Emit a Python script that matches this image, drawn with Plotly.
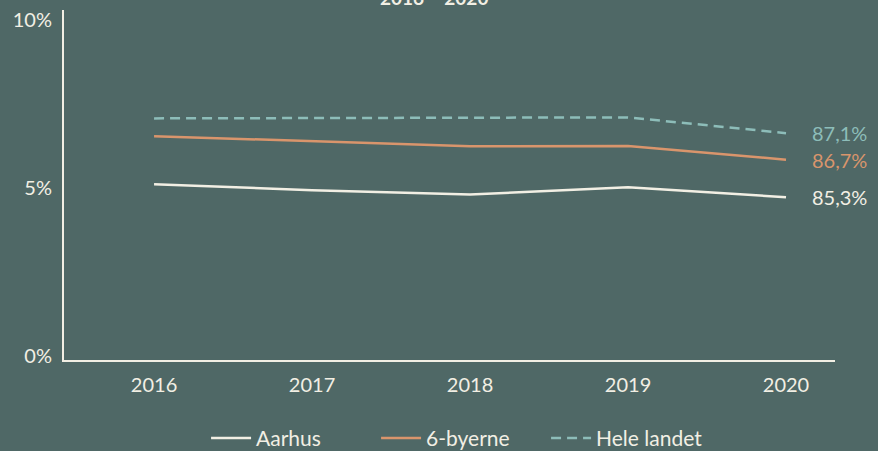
import plotly.graph_objects as go

years = [2016, 2017, 2018, 2019, 2020]
aarhus = [5.11, 4.93, 4.80, 5.02, 4.72]
seks_byerne = [6.54, 6.40, 6.24, 6.25, 5.84]
hele_landet = [7.07, 7.08, 7.09, 7.10, 6.63]
end_labels = {"Hele landet": "87,1%", "6-byerne": "86,7%", "Aarhus": "85,3%"}
title_text = "2016 – 2020"
y_ticks = [0, 5, 10]
y_ticktext = ["0%", "5%", "10%"]

BG = "#4f6866"
WHITE = "#f2efe4"
ORANGE = "#d9956c"
TEAL = "#8dbdb9"
FONT = "Lato"

fig = go.Figure()
fig.add_trace(go.Scatter(x=years, y=aarhus, name="Aarhus", mode="lines",
                         line=dict(color=WHITE, width=2.5)))
fig.add_trace(go.Scatter(x=years, y=seks_byerne, name="6-byerne", mode="lines",
                         line=dict(color=ORANGE, width=2.5)))
fig.add_trace(go.Scatter(x=years, y=hele_landet, name="Hele landet", mode="lines",
                         line=dict(color=TEAL, width=2.5, dash="10px,6px")))

for name, series, col in [("Hele landet", hele_landet, TEAL),
                          ("6-byerne", seks_byerne, ORANGE),
                          ("Aarhus", aarhus, WHITE)]:
    fig.add_annotation(x=years[-1], y=series[-1], text=end_labels[name],
                       showarrow=False, xanchor="left", yanchor="middle",
                       xshift=24, font=dict(family=FONT, size=20, color=col))

fig.add_annotation(x=0.48, xref="paper", y=1.0, yref="paper", text="<b>" + title_text + "</b>",
                   showarrow=False, xanchor="center", yanchor="bottom", yshift=-1,
                   font=dict(family=FONT, size=19, color=WHITE))

fig.update_layout(
    width=878, height=451,
    paper_bgcolor=BG, plot_bgcolor=BG,
    margin=dict(l=64, r=43, t=10, b=91, autoexpand=False),
    font=dict(family=FONT, size=20, color=WHITE),
    showlegend=True,
    legend=dict(orientation="h", x=0.515, xanchor="center", y=-0.165, yanchor="top",
                font=dict(family=FONT, size=21, color=WHITE),
                bgcolor="rgba(0,0,0,0)", entrywidth=115, itemwidth=40),
    xaxis=dict(range=[2015.43, 2020.31], tickvals=years, ticktext=[str(y) for y in years],
               showgrid=False, zeroline=False, showline=True, linecolor=WHITE, linewidth=2,
               ticks="", ticklabelstandoff=6, tickfont=dict(family=FONT, size=20, color=WHITE)),
    yaxis=dict(range=[-0.13, 10.3], tickvals=y_ticks, ticktext=y_ticktext,
               showgrid=False, zeroline=False, showline=True, linecolor=WHITE, linewidth=2,
               ticks="", ticklabelstandoff=6, tickfont=dict(family=FONT, size=20, color=WHITE)),
)

fig.write_html("out.html", config={"displayModeBar": False},
               post_script="document.body.style.margin='0';document.body.style.overflow='hidden';")
